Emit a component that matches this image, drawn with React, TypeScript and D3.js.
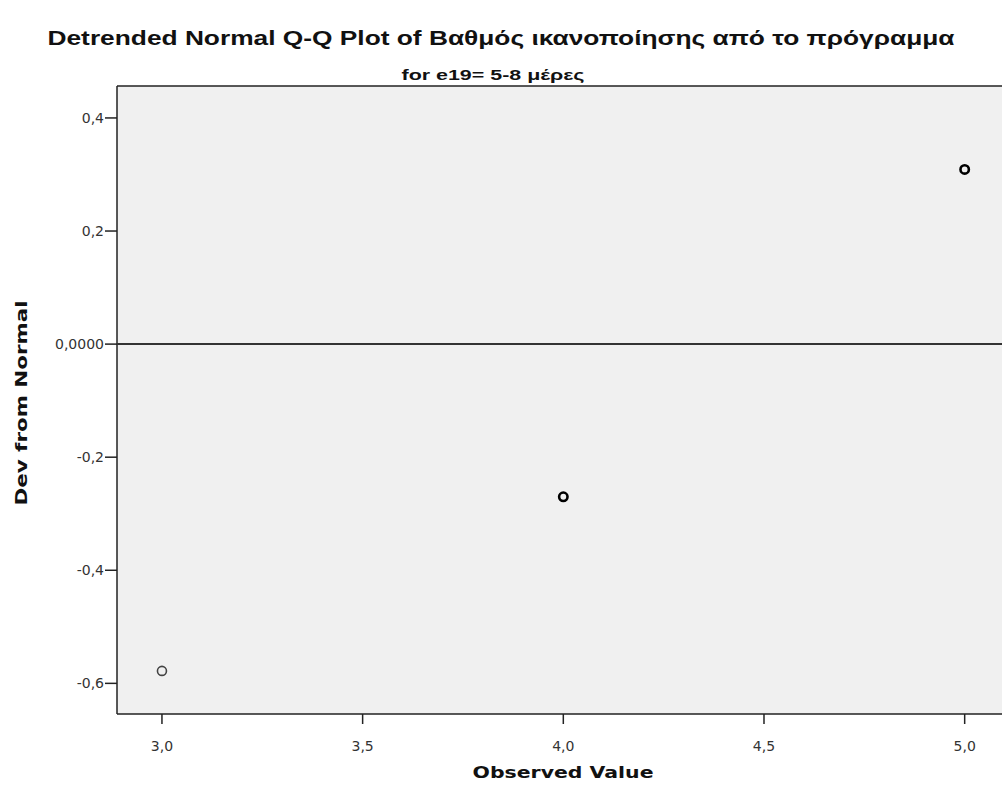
import React from "react";
import * as d3 from "d3";

const title = "Detrended Normal Q-Q Plot of Βαθμός ικανοποίησης από το πρόγραμμα";
const subtitle = "for e19= 5-8 μέρες";
const xLabel = "Observed Value";
const yLabel = "Dev from Normal";

const observed = [3, 4, 5];
const deviation = [-0.578, -0.27, 0.309];
// points drawn heavier where several cases share the same value
const caseCount = [1, 3, 4];

const xTicks = [3.0, 3.5, 4.0, 4.5, 5.0];
const yTicks = [0.4, 0.2, 0.0, -0.2, -0.4, -0.6];

const W = 1002;
const H = 789;
const plot = { left: 117, top: 86, right: 1002, bottom: 714 };

const comma = (s: string) => s.replace(".", ",").replace("\u2212", "-");
const fmtX = (v: number) => comma(d3.format(".1f")(v));
const fmtY = (v: number) => (v === 0 ? "0,0000" : comma(d3.format(".1f")(v)));

const labelFont = "'DejaVu Sans', Verdana, sans-serif";

export default function App() {
  const x = d3.scaleLinear().domain([2.888, 5.093]).range([plot.left, plot.right]);
  const y = d3.scaleLinear().domain([-0.6542, 0.4565]).range([plot.bottom, plot.top]);

  return (
    <svg
      width={W}
      height={H}
      style={{ position: "absolute", left: 0, top: 0, background: "#fff" }}
      fontFamily="Arial, 'Liberation Sans', sans-serif"
    >
      <rect
        x={plot.left}
        y={plot.top}
        width={plot.right - plot.left}
        height={plot.bottom - plot.top}
        fill="#f0f0f0"
      />
      {/* frame */}
      <line x1={plot.left} x2={plot.right} y1={plot.top} y2={plot.top} stroke="#222" strokeWidth={1.5} />
      <line x1={plot.left} x2={plot.left} y1={plot.top} y2={plot.bottom} stroke="#222" strokeWidth={1.5} />
      <line x1={plot.left} x2={plot.right} y1={plot.bottom} y2={plot.bottom} stroke="#222" strokeWidth={1.5} />

      {/* reference line at zero deviation */}
      <line x1={plot.left} x2={plot.right} y1={y(0)} y2={y(0)} stroke="#333" strokeWidth={2} />

      {/* y axis */}
      {yTicks.map((t) => (
        <g key={"y" + t}>
          <line x1={plot.left - 12} x2={plot.left} y1={y(t)} y2={y(t)} stroke="#222" strokeWidth={1.5} />
          <text x={plot.left - 13} y={y(t)} dy="0.35em" textAnchor="end" fontSize={14} fill="#333" fontFamily={labelFont}>
            {fmtY(t)}
          </text>
        </g>
      ))}

      {/* x axis */}
      {xTicks.map((t) => (
        <g key={"x" + t}>
          <line x1={x(t)} x2={x(t)} y1={plot.bottom} y2={plot.bottom + 10} stroke="#222" strokeWidth={1.5} />
          <text x={x(t)} y={plot.bottom + 37} textAnchor="middle" fontSize={14} fill="#333" fontFamily={labelFont}>
            {fmtX(t)}
          </text>
        </g>
      ))}

      {/* points */}
      {observed.map((o, i) => (
        <circle
          key={"p" + i}
          cx={x(o)}
          cy={y(deviation[i])}
          r={caseCount[i] > 1 ? 4.2 : 4.5}
          fill="none"
          stroke={caseCount[i] > 1 ? "#000" : "#444"}
          strokeWidth={caseCount[i] > 1 ? 2.6 : 1.6}
        />
      ))}

      {/* titles */}
      <text x={501} y={45} textAnchor="middle" fontSize={20} fontWeight={600} fill="#111" textLength={907} lengthAdjust="spacingAndGlyphs">
        {title}
      </text>
      <text x={493} y={80} textAnchor="middle" fontSize={15} fontWeight="bold" fill="#111" textLength={183} lengthAdjust="spacingAndGlyphs">
        {subtitle}
      </text>
      <text x={563} y={778} textAnchor="middle" fontSize={16} fontWeight="bold" fill="#111" textLength={181} lengthAdjust="spacingAndGlyphs" fontFamily={labelFont}>
        {xLabel}
      </text>
      <text
        transform={`translate(27, ${403}) rotate(-90)`}
        textAnchor="middle"
        fontSize={16}
        fontWeight="bold"
        fill="#111"
        textLength={205}
        lengthAdjust="spacingAndGlyphs"
        fontFamily={labelFont}
      >
        {yLabel}
      </text>
    </svg>
  );
}
